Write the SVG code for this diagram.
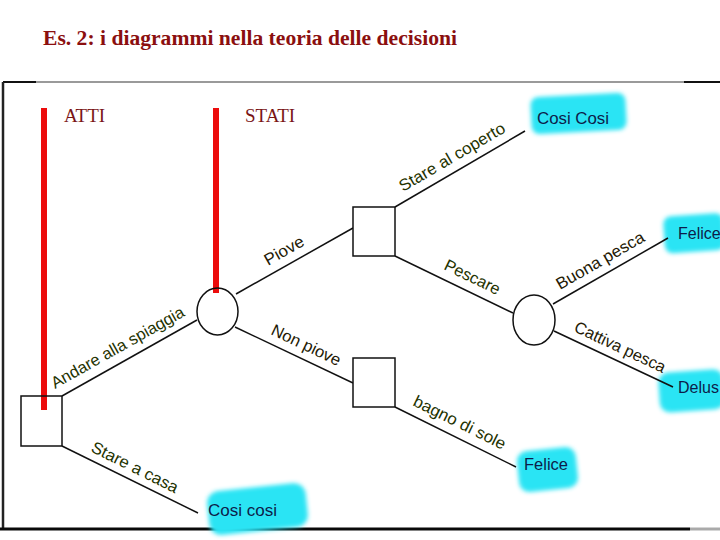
<svg xmlns="http://www.w3.org/2000/svg" width="720" height="540" viewBox="0 0 720 540">
<defs>
<filter id="blur" x="-20%" y="-30%" width="140%" height="160%"><feGaussianBlur stdDeviation="2"/></filter>
<style>
.title{font-family:"Liberation Serif","DejaVu Serif",serif;font-weight:bold;font-size:20px;fill:#8b0f0f}
.head{font-family:"Liberation Serif","DejaVu Serif",serif;font-size:19px;fill:#7a1515}
.bar{fill:#ec0c0c}
.node{fill:#fff;stroke:#111;stroke-width:1.5}
.edge{stroke:#111;stroke-width:1.5;fill:none}
.lbl{font-family:"Liberation Sans","Arial",sans-serif;font-size:16.5px}
.g{fill:#1f3300}
.k{fill:#241a05}
.out{font-family:"Liberation Sans","Arial",sans-serif;font-size:16px;fill:#0d1d4a}
.hl{fill:#2ae4f4;filter:url(#blur)}
</style>
</defs>
<rect width="720" height="540" fill="#fff"/>
<text class="title" x="43" y="45" textLength="414" lengthAdjust="spacingAndGlyphs">Es. 2: i diagrammi nella teoria delle decisioni</text>

<g id="frame">
<line x1="3" y1="82" x2="720" y2="82" stroke="#9a9a9a" stroke-width="2"/>
<line x1="3" y1="82" x2="36" y2="82" stroke="#111" stroke-width="2"/>
<line x1="684" y1="82" x2="720" y2="82" stroke="#111" stroke-width="2"/>
<line x1="3" y1="82" x2="3" y2="529" stroke="#222" stroke-width="2.5"/>
<line x1="0" y1="529" x2="690" y2="529" stroke="#0a0a0a" stroke-width="3"/>
<line x1="690" y1="529" x2="720" y2="529" stroke="#aaa" stroke-width="3"/>
</g>

<g id="highlights">
<rect class="hl" x="531" y="95" width="95" height="37" rx="8" transform="rotate(-3 578 113)"/>
<rect class="hl" x="664" y="215" width="60" height="37" rx="8" transform="rotate(-4 690 233)"/>
<rect class="hl" x="659" y="371" width="65" height="40" rx="10" transform="rotate(-4 690 390)"/>
<rect class="hl" x="518" y="449" width="59" height="41" rx="10" transform="rotate(-6 548 470)"/>
<rect class="hl" x="208" y="487" width="99" height="44" rx="12" transform="rotate(-6 258 509)"/>
</g>

<g id="connectors">
<line class="edge" x1="62" y1="396" x2="197" y2="320"/>
<line class="edge" x1="62" y1="446" x2="198" y2="513"/>
<line class="edge" x1="236" y1="294" x2="353" y2="228"/>
<line class="edge" x1="235" y1="327" x2="353" y2="383"/>
<line class="edge" x1="395" y1="207" x2="525" y2="131"/>
<line class="edge" x1="395" y1="256" x2="513" y2="313"/>
<line class="edge" x1="553" y1="304" x2="668" y2="238"/>
<line class="edge" x1="554" y1="331" x2="673" y2="387"/>
<line class="edge" x1="395" y1="407" x2="516" y2="467"/>
</g>

<g id="edge-labels">
<text class="lbl g" transform="translate(55 389) rotate(-29.4)" textLength="150" lengthAdjust="spacingAndGlyphs">Andare alla spiaggia</text>
<text class="lbl g" transform="translate(90 451) rotate(26.5)" textLength="95" lengthAdjust="spacingAndGlyphs">Stare a casa</text>
<text class="lbl k" transform="translate(268 266) rotate(-29.4)" textLength="43" lengthAdjust="spacingAndGlyphs">Piove</text>
<text class="lbl k" transform="translate(270 334) rotate(25.4)" textLength="75" lengthAdjust="spacingAndGlyphs">Non piove</text>
<text class="lbl g" transform="translate(403 192) rotate(-30.3)" textLength="120" lengthAdjust="spacingAndGlyphs">Stare al coperto</text>
<text class="lbl g" transform="translate(443 269) rotate(25.8)" textLength="60" lengthAdjust="spacingAndGlyphs">Pescare</text>
<text class="lbl k" transform="translate(560 290) rotate(-29.9)" textLength="99" lengthAdjust="spacingAndGlyphs">Buona pesca</text>
<text class="lbl k" transform="translate(573 331) rotate(25.2)" textLength="99" lengthAdjust="spacingAndGlyphs">Cattiva pesca</text>
<text class="lbl g" transform="translate(412 405) rotate(26.4)" textLength="101" lengthAdjust="spacingAndGlyphs">bagno di sole</text>
</g>

<g id="bars">
<rect class="bar" x="41" y="108" width="6" height="302"/>
<rect class="bar" x="213" y="108" width="6" height="185"/>
</g>

<g id="n-atti"><rect class="node" x="21" y="396" width="41" height="50" style="fill:none"/></g>
<g id="n-stati"><ellipse class="node" cx="217.5" cy="311.5" rx="20.5" ry="23.5" style="fill:none"/></g>
<g id="n-piove"><rect class="node" x="353" y="207" width="42" height="49"/></g>
<g id="n-nonpiove"><rect class="node" x="353" y="358" width="42" height="49"/></g>
<g id="n-pescare"><ellipse class="node" cx="534" cy="320" rx="21" ry="25"/></g>

<g id="labels">
<text class="head" x="64" y="122">ATTI</text>
<text class="head" x="245" y="122">STATI</text>
<text class="out" x="537" y="124" textLength="72" lengthAdjust="spacingAndGlyphs">Cosi Cosi</text>
<text class="out" x="678" y="239">Felice</text>
<text class="out" x="678" y="393">Delus</text>
<text class="out" x="524" y="470" textLength="44" lengthAdjust="spacingAndGlyphs">Felice</text>
<text class="out" x="208" y="516" textLength="69" lengthAdjust="spacingAndGlyphs">Cosi cosi</text>
</g>
</svg>
